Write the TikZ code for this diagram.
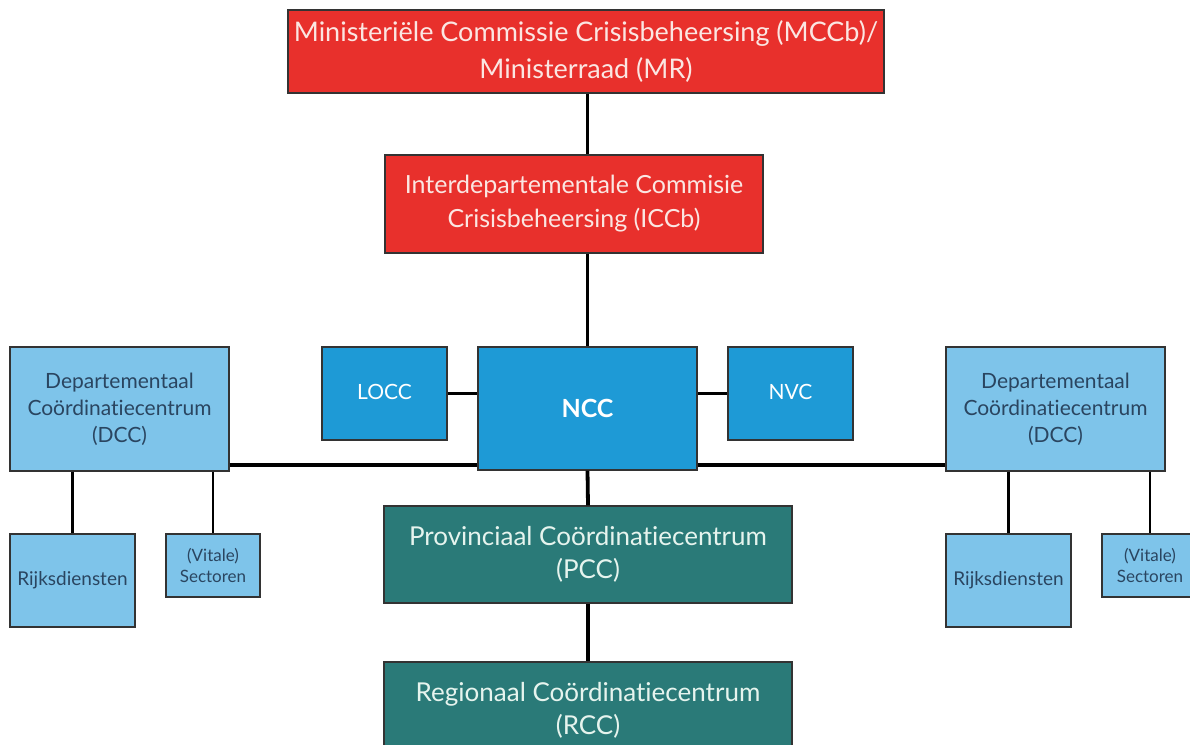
\documentclass[tikz,border=0pt]{standalone}
\usepackage{fontspec}
\setmainfont[Ligatures={NoCommon}]{Lato}
\definecolor{redbox}{HTML}{E8302C}
\definecolor{nccblue}{HTML}{1E9AD6}
\definecolor{lightblue}{HTML}{7EC4EA}
\definecolor{teal}{HTML}{2A7A78}
\definecolor{darktext}{HTML}{2A4560}
\definecolor{paletext}{HTML}{FBE6E2}
\definecolor{tealtext}{HTML}{E6F4EE}
\begin{document}
\begin{tikzpicture}[x=1pt,y=-1pt,
  box/.style={draw=black!80, line width=1.3pt, inner sep=0pt, align=center},
  redstyle/.style={box, fill=redbox, text=paletext},
  tealstyle/.style={box, fill=teal, text=tealtext, font=\fontsize{26}{33}\selectfont},
  midblue/.style={box, fill=nccblue, text=white},
  pale/.style={box, fill=lightblue, text=darktext},
  conn/.style={line width=3.8pt, black},
  thinconn/.style={line width=2.6pt, black}]
\useasboundingbox (0,0) rectangle (1190,744);
% top
\node[redstyle, minimum width=596, minimum height=83, font=\fontsize{27}{37}\selectfont] (mccb) at (586,51.5)
  {Ministeriële Commissie Crisisbeheersing (MCCb)/\\Ministerraad (MR)};
\node[redstyle, minimum width=378, minimum height=98, font=\fontsize{25}{34}\selectfont] (iccb) at (574,204)
  {Interdepartementale Commisie\\Crisisbeheersing (ICCb)};
% middle
\node[midblue, minimum width=219, minimum height=123, font=\fontsize{25}{28}\bfseries\selectfont] (ncc) at (587.5,408.5) {NCC};
\node[midblue, minimum width=125, minimum height=93, font=\fontsize{21}{24}\selectfont] (locc) at (384.5,393.5) {\raisebox{4pt}{LOCC}};
\node[midblue, minimum width=125, minimum height=93, font=\fontsize{21}{24}\selectfont] (nvc) at (790.5,393.5) {\raisebox{4pt}{NVC}};
\node[pale, minimum width=219, minimum height=124, font=\fontsize{21}{27}\selectfont] (dccL) at (119.5,409)
  {Departementaal\\Coördinatiecentrum\\(DCC)};
\node[pale, minimum width=219, minimum height=124, font=\fontsize{21}{27}\selectfont] (dccR) at (1055.5,409)
  {Departementaal\\Coördinatiecentrum\\(DCC)};
% lower sides
\node[pale, minimum width=125, minimum height=93, font=\fontsize{19}{22}\selectfont] (rijL) at (72.5,580.5) {Rijksdiensten};
\node[pale, minimum width=94, minimum height=63, font=\fontsize{17}{21}\selectfont] (vitL) at (213,565.5) {(Vitale)\\Sectoren};
\node[pale, minimum width=125, minimum height=93, font=\fontsize{19}{22}\selectfont] (rijR) at (1008.5,580.5) {Rijksdiensten};
\node[pale, minimum width=96, minimum height=63, font=\fontsize{17}{21}\selectfont] (vitR) at (1150,565.5) {(Vitale)\\Sectoren};
% bottom
\node[tealstyle, minimum width=408, minimum height=97] (pcc) at (588,554.5)
  {Provinciaal Coördinatiecentrum\\(PCC)};
\node[tealstyle, minimum width=408, minimum height=97] (rcc) at (588,710.5)
  {Regionaal Coördinatiecentrum\\(RCC)};
% connectors
\draw[conn] (mccb.south -| ncc.north) -- (iccb.north -| ncc.north);
\draw[conn] (iccb.south -| ncc.north) -- (ncc.north);
\draw[conn] (ncc.south) -- (pcc.north);
\draw[conn] (pcc.south) -- (rcc.north);
\draw[thinconn] (locc.east) -- (locc.east -| ncc.west);
\draw[thinconn] (nvc.west) -- (nvc.west -| ncc.east);
\coordinate (hl) at (0,465);
\draw[conn] (hl -| dccL.east) -- (hl -| ncc.west);
\draw[conn] (hl -| ncc.east) -- (hl -| dccR.west);
\draw[conn] (dccL.south -| rijL.north) -- (rijL.north);
\draw[thinconn] (dccL.south -| vitL.north) -- (vitL.north);
\draw[conn] (dccR.south -| rijR.north) -- (rijR.north);
\draw[thinconn] (dccR.south -| vitR.north) -- (vitR.north);
\end{tikzpicture}
\end{document}
